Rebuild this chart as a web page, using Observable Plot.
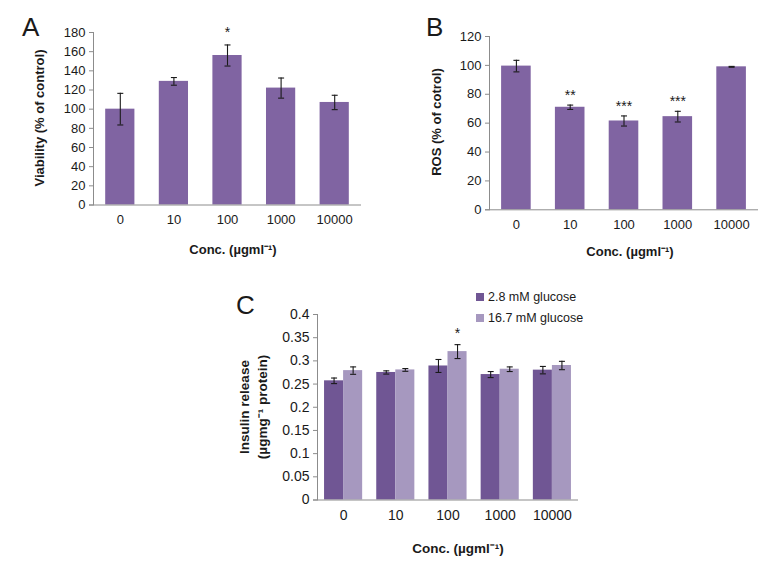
<!DOCTYPE html>
<html>
<head>
<meta charset="utf-8">
<script src="https://cdn.jsdelivr.net/npm/d3@7"></script>
<script src="https://cdn.jsdelivr.net/npm/@observablehq/plot@0.6"></script>
<style>
  body { margin: 0; background: #fff; }
  #wrap { position: relative; width: 771px; height: 563px; overflow: hidden;
          font-family: "Liberation Sans", Arial, sans-serif; color: #1a1a1a; background: #fff; }
  .pl { position: absolute; }
  .pl svg { display: block; overflow: visible; }
  .letter { position: absolute; font-size: 26px; line-height: 1; font-family: "Liberation Sans", Arial, sans-serif; }
  .title { position: absolute; font-weight: bold; white-space: nowrap; line-height: 1.35; text-align: center; }
  .ytitle { transform: translate(-50%, -50%) rotate(-90deg); }
  .xtitle { transform: translate(-50%, -50%); }
  .legend { position: absolute; font-size: 12.5px; }
  .legend .row { display: flex; align-items: center; height: 21px; }
  .legend .sw { width: 8px; height: 8px; margin-right: 4px; }
</style>
</head>
<body>
<div id="wrap"></div>
<script>
// ---------- data ----------
const concs = ["0", "10", "100", "1000", "10000"];

const viability    = [100, 129, 156, 122, 107];
const viabilityErr = [16.5, 4, 11, 10.5, 7.5];
const viabilitySig = ["", "", "*", "", ""];
const ticksA = [0, 20, 40, 60, 80, 100, 120, 140, 160, 180];

const ros    = [99.5, 71, 61.5, 64.5, 99];
const rosErr = [4, 1.5, 3.5, 3.7, 0.3];
const rosSig = ["", "**", "***", "***", ""];
const ticksB = [0, 20, 40, 60, 80, 100, 120];

const series = ["2.8 mM glucose", "16.7 mM glucose"];
const insulinLow     = [0.257, 0.275, 0.289, 0.2705, 0.280];
const insulinLowErr  = [0.006, 0.0035, 0.014, 0.0065, 0.008];
const insulinHigh    = [0.279, 0.2805, 0.320, 0.282, 0.290];
const insulinHighErr = [0.008, 0.003, 0.015, 0.005, 0.009];
const insulinHighSig = ["", "", "*", "", ""];
const ticksC = [0, 0.05, 0.1, 0.15, 0.2, 0.25, 0.3, 0.35, 0.4];

// ---------- style ----------
const purple = "#8064a2", dark = "#705694", light = "#a698bf";
const axisGray = "#8c8c8c", ink = "#1a1a1a";
const font = '"Liberation Sans", Arial, sans-serif';
const cap = { draw(ctx, size) { const r = Math.sqrt(size / Math.PI); ctx.moveTo(-r, 0); ctx.lineTo(r, 0); } };

const rows = (vals, errs, sigs) => concs.map((c, i) => ({ conc: c, v: vals[i], e: errs[i], sig: sigs ? sigs[i] : "" }));
const dataA = rows(viability, viabilityErr, viabilitySig);
const dataB = rows(ros, rosErr, rosSig);
const dataCLow = rows(insulinLow, insulinLowErr);
const dataCHigh = rows(insulinHigh, insulinHighErr, insulinHighSig);

function errMarks(data, extra = {}) {
  const common = { x: "conc", stroke: ink, strokeWidth: 1.1, ...extra };
  return [
    Plot.ruleX(data, { ...common, y1: d => d.v - d.e, y2: d => d.v + d.e }),
    Plot.dot(data, { ...common, y: d => d.v - d.e, symbol: cap, r: 3, fill: "none" }),
    Plot.dot(data, { ...common, y: d => d.v + d.e, symbol: cap, r: 3, fill: "none" })
  ];
}
function axes(yTicks, fontSize) {
  return [
    Plot.axisY(yTicks, { tickSize: 4, tickPadding: 4, stroke: axisGray, fill: ink, fontSize, tickFormat: d => String(d), label: null }),
    Plot.axisX({ tickSize: 0, tickPadding: 10, fill: ink, fontSize, label: null }),
    Plot.frame({ anchor: "left", stroke: axisGray }),
    Plot.ruleY([0], { stroke: axisGray, insetLeft: -4 })
  ];
}
function stars(data, extra = {}) {
  return Plot.text(data, { filter: d => d.sig, x: "conc", y: d => d.v + d.e, text: "sig", dy: -5, lineAnchor: "bottom", fontSize: 14, fill: ink, ...extra });
}

const wrap = document.getElementById("wrap");
function place(node, left, top) {
  const d = document.createElement("div");
  d.className = "pl"; d.style.left = left + "px"; d.style.top = top + "px";
  d.appendChild(node); wrap.appendChild(d);
}
function html(cls, text, left, top, size) {
  const d = document.createElement("div");
  d.className = cls; d.style.left = left + "px"; d.style.top = top + "px";
  if (size) d.style.fontSize = size + "px";
  d.innerHTML = text; wrap.appendChild(d);
}

// ---------- Panel A ----------
place(Plot.plot({
  width: 366, height: 262, marginLeft: 93, marginRight: 5, marginTop: 32, marginBottom: 57.5,
  style: { fontFamily: font, background: "transparent", color: ink, overflow: "visible" },
  x: { domain: concs, paddingInner: 0.455, paddingOuter: 0.2275, round: false },
  y: { domain: [0, 180] },
  marks: [
    Plot.barY(dataA, { x: "conc", y: "v", fill: purple }),
    ...axes(ticksA, 13),
    ...errMarks(dataA),
    stars(dataA, { dy: -8 })
  ]
}), 0, 0);

// ---------- Panel B ----------
place(Plot.plot({
  width: 391, height: 262, marginLeft: 109, marginRight: 13, marginTop: 36, marginBottom: 52.7,
  style: { fontFamily: font, background: "transparent", color: ink, overflow: "visible" },
  x: { domain: concs, paddingInner: 0.45, paddingOuter: 0.225, round: false },
  y: { domain: [0, 120] },
  marks: [
    Plot.barY(dataB, { x: "conc", y: "v", fill: purple }),
    ...axes(ticksB, 13),
    ...errMarks(dataB),
    stars(dataB)
  ]
}), 380, 0);

// ---------- Panel C ----------
const cLeft = 117, cRight = 22, cWidth = 400, pInner = 0.27, pOuter = 0.135;
const step = (cWidth - cLeft - cRight) / (concs.length - pInner + 2 * pOuter);
const bw = step * (1 - pInner);
place(Plot.plot({
  width: cWidth, height: 293, marginLeft: cLeft, marginRight: cRight, marginTop: 44, marginBottom: 63.5,
  style: { fontFamily: font, background: "transparent", color: ink, overflow: "visible" },
  x: { domain: concs, paddingInner: pInner, paddingOuter: pOuter, round: false },
  y: { domain: [0, 0.4] },
  marks: [
    Plot.barY(dataCLow, { x: "conc", y: "v", fill: dark, insetRight: bw / 2 }),
    Plot.barY(dataCHigh, { x: "conc", y: "v", fill: light, insetLeft: bw / 2 }),
    ...axes(ticksC, 14),
    ...errMarks(dataCLow, { dx: -bw / 4 }),
    ...errMarks(dataCHigh, { dx: bw / 4 }),
    stars(dataCHigh, { dx: bw / 4, dy: -7 })
  ]
}), 200, 270);

// ---------- text ----------
html("letter", "A", 22, 14);
html("letter", "B", 426, 14);
html("letter", "C", 236, 292);

html("title ytitle", "Viability (% of control)", 40, 118, 13);
html("title xtitle", "Conc. (µgml⁻¹)", 233, 250, 13);
html("title ytitle", "ROS (% of cotrol)", 437, 122, 13);
html("title xtitle", "Conc. (µgml⁻¹)", 630, 252, 13);
html("title ytitle", "Insulin release<br>(µgmg⁻¹ protein)", 254, 407, 13.5);
html("title xtitle", "Conc. (µgml⁻¹)", 458, 549, 13.5);

const lg = document.createElement("div");
lg.className = "legend"; lg.style.left = "476px"; lg.style.top = "286px";
series.forEach((s, i) => {
  const r = document.createElement("div"); r.className = "row";
  const sw = document.createElement("span"); sw.className = "sw"; sw.style.background = i === 0 ? dark : light;
  const t = document.createElement("span"); t.textContent = s;
  r.appendChild(sw); r.appendChild(t); lg.appendChild(r);
});
wrap.appendChild(lg);
</script>
</body>
</html>
